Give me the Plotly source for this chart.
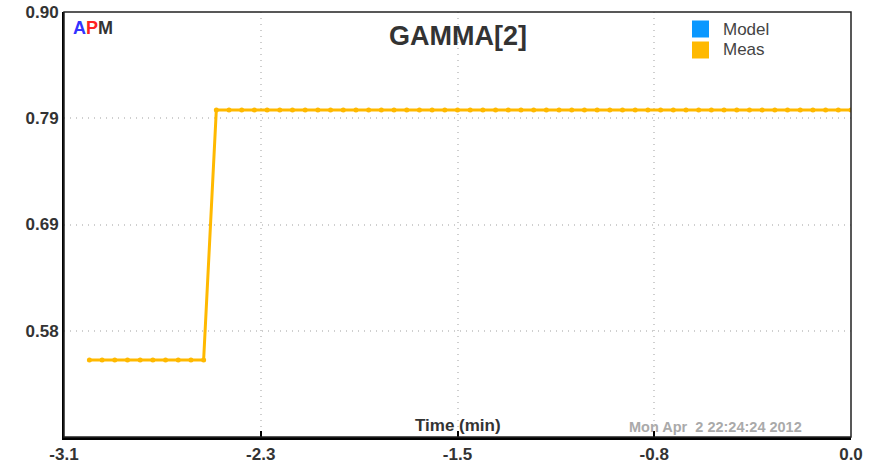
import plotly.graph_objects as go

# Data
time_min = [round(-3.0 + 0.05 * i, 2) for i in range(61)]
meas_low = 0.552
meas_high = 0.802
meas = [meas_low] * 10 + [meas_high] * 51
x_tickvals = [-3.1, -2.325, -1.55, -0.775, 0.0]
x_ticktext = ["-3.1", "-2.3", "-1.5", "-0.8", "0.0"]
y_tickvals = [0.475, 0.58125, 0.6875, 0.79375, 0.9]
y_ticktext = ["", "0.58", "0.69", "0.79", "0.90"]
legend_names = ["Model", "Meas"]

ORANGE = "#FFB900"
BLUE = "#0A98FF"
legend_colors = [BLUE, ORANGE]
FONT = "Liberation Sans, Arial, sans-serif"

# pixel helpers for plot-area (paper) placement of decorations
L, R, T, B = 64, 26, 12, 33
PW, PH = 877 - L - R, 470 - T - B
def px(x): return (x - L) / PW
def py(y): return 1 - (y - T) / PH

fig = go.Figure()
fig.add_trace(go.Scatter(x=[None], y=[None], mode="lines", name="Model",
                         line=dict(color=BLUE, width=3), showlegend=False))
fig.add_trace(go.Scatter(x=time_min, y=meas, mode="lines+markers", name="Meas",
                         line=dict(color=ORANGE, width=3),
                         marker=dict(color=ORANGE, size=5),
                         showlegend=False, hoverinfo="x+y"))

shapes = [dict(type="rect", xref="paper", yref="paper", x0=0, y0=0, x1=1, y1=1,
               line=dict(color="#222", width=1.5), layer="above")]
annotations = [
    dict(text="<b>GAMMA[2]</b>", x=0.5, y=py(36), xref="paper", yref="paper",
         xanchor="center", yanchor="middle", showarrow=False,
         font=dict(size=27, color="#333", family=FONT)),
    dict(text="<b><span style='color:#3333FF'>A</span><span style='color:#FF2222'>P</span><span style='color:#333'>M</span></b>",
         x=0.009, y=0.99, xref="paper", yref="paper", xanchor="left", yanchor="top",
         showarrow=False, font=dict(size=18, family=FONT)),
    dict(text="<b>Time (min)</b>", x=0.5, y=0.0, xref="paper", yref="paper",
         xanchor="center", yanchor="bottom", showarrow=False,
         font=dict(size=17, color="#333", family=FONT)),
    dict(text="<b>Mon Apr&nbsp; 2 22:24:24 2012</b>", x=px(715), y=0.0,
         xref="paper", yref="paper", xanchor="center", yanchor="bottom", showarrow=False,
         font=dict(size=14.5, color="#aaaaaa", family=FONT)),
]
# manual legend
for i, (name, col) in enumerate(zip(legend_names, legend_colors)):
    cy = 29 + 21 * i
    shapes.append(dict(type="rect", xref="paper", yref="paper",
                       x0=px(692), x1=px(709), y0=py(cy - 8.5), y1=py(cy + 8.5),
                       fillcolor=col, line=dict(color=col, width=0), layer="above"))
    annotations.append(dict(text=name, x=px(721), y=py(cy), xref="paper", yref="paper",
                            xanchor="left", yanchor="middle", showarrow=False,
                            font=dict(size=17, color="#444", family=FONT)))

fig.update_layout(
    width=877, height=470,
    margin=dict(l=L, r=R, t=T, b=B),
    paper_bgcolor="white", plot_bgcolor="white",
    font=dict(family=FONT, color="#333333"),
    showlegend=False,
    xaxis=dict(range=[-3.1, 0.0], tickvals=x_tickvals, ticktext=x_ticktext,
               showline=True, linecolor="black", linewidth=3,
               ticks="inside", ticklen=6, tickcolor="black", tickwidth=2,
               showgrid=True, gridcolor="#cfcfcf", griddash="1px,5px", gridwidth=1.5,
               tickfont=dict(size=17, family=FONT, color="#333", weight="bold"),
               zeroline=False, automargin=False),
    yaxis=dict(range=[0.475, 0.9], tickvals=y_tickvals, ticktext=y_ticktext,
               showline=True, linecolor="black", linewidth=2,
               ticks="", showgrid=True, gridcolor="#cfcfcf", griddash="1px,5px", gridwidth=1.5,
               tickfont=dict(size=17, family=FONT, color="#333", weight="bold"),
               zeroline=False, automargin=False),
    shapes=shapes,
    annotations=annotations,
)

fig.write_html("out.html")
